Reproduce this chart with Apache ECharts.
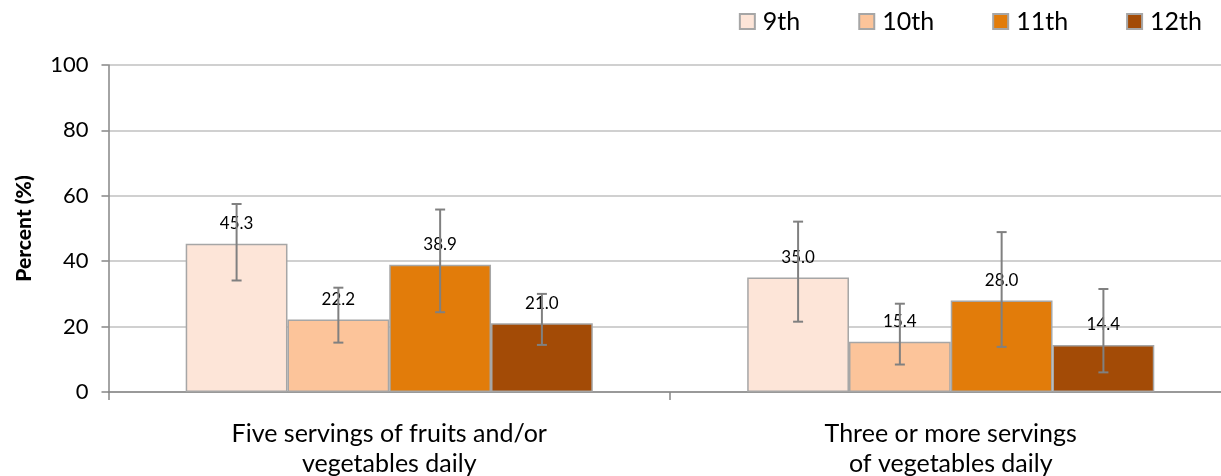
<!DOCTYPE html>
<html>
<head>
<meta charset="utf-8">
<script src="https://cdn.jsdelivr.net/npm/echarts@6/dist/echarts.min.js"></script>
<style>
html,body{margin:0;padding:0;background:#fff;overflow:hidden;}
#chart{width:1232px;height:476px;}
</style>
</head>
<body>
<div id="chart"></div>
<script>
const categories = ["Five servings of fruits and/or\nvegetables daily", "Three or more servings\nof vegetables daily"];
const grades = ["9th", "10th", "11th", "12th"];
const colors = ["#FDE5D8", "#FCC49A", "#E27C0A", "#A34B06"];
const values9 = [45.3, 35.0];
const values10 = [22.2, 15.4];
const values11 = [38.9, 28.0];
const values12 = [21.0, 14.4];
const lower9 = [34.1, 21.5];
const upper9 = [57.5, 52.1];
const lower10 = [15.1, 8.4];
const upper10 = [31.9, 27.0];
const lower11 = [24.4, 13.8];
const upper11 = [55.8, 48.9];
const lower12 = [14.4, 6.0];
const upper12 = [30.0, 31.5];
const yTicks = [0, 20, 40, 60, 80, 100];

const valueSets = [values9, values10, values11, values12];
const lowerSets = [lower9, lower10, lower11, lower12];
const upperSets = [upper9, upper10, upper11, upper12];

const CAT_GAP = 0.275;
const FONT = "Lato, 'Open Sans', sans-serif";

const series = [];
grades.forEach((g, k) => {
  series.push({
    name: g,
    type: 'bar',
    data: valueSets[k],
    barGap: '0%',
    barCategoryGap: (CAT_GAP * 100) + '%',
    itemStyle: { color: colors[k], borderColor: '#A6A6A6', borderWidth: 1.5 },
    label: {
      show: true, position: 'top', distance: 11.5,
      formatter: p => p.value.toFixed(1),
      fontFamily: FONT, fontSize: 17, color: '#000'
    },
    z: 2
  });
});
grades.forEach((g, k) => {
  series.push({
    name: g + ' error',
    type: 'custom',
    data: categories.map((c, i) => [i, lowerSets[k][i], upperSets[k][i]]),
    encode: { x: 0, y: [1, 2] },
    z: 3,
    silent: true,
    renderItem: function (params, api) {
      const cat = api.value(0);
      const lo = api.coord([cat, api.value(1)]);
      const hi = api.coord([cat, api.value(2)]);
      const catW = api.size([1, 0])[0];
      const bw = catW * (1 - CAT_GAP) / 4;
      const x = lo[0] + (k - 1.5) * bw;
      const cap = 5;
      const st = { stroke: '#808080', lineWidth: 2 };
      return {
        type: 'group',
        children: [
          { type: 'line', shape: { x1: x, y1: lo[1], x2: x, y2: hi[1] }, style: st },
          { type: 'line', shape: { x1: x - cap, y1: lo[1], x2: x + cap, y2: lo[1] }, style: st },
          { type: 'line', shape: { x1: x - cap, y1: hi[1], x2: x + cap, y2: hi[1] }, style: st }
        ]
      };
    }
  });
});

const chart = echarts.init(document.getElementById('chart'));
chart.setOption({
  animation: false,
  backgroundColor: '#fff',
  grid: { left: 108.5, right: 0.5, top: 65, bottom: 84, containLabel: false, outerBoundsMode: 'none' },
  legend: {
    data: grades,
    right: 25, top: 4,
    itemWidth: 15, itemHeight: 15, itemGap: 58,
    icon: 'rect',
    textStyle: { fontFamily: FONT, fontSize: 25, color: '#000', padding: [0, 0, 0, 3] }
  },
  xAxis: {
    type: 'category',
    data: categories,
    axisLine: { lineStyle: { color: '#868686', width: 1.5 } },
    axisTick: { show: true, length: 8, lineStyle: { color: '#868686', width: 1.5 } },
    axisLabel: { fontFamily: FONT, fontSize: 25, color: '#000', lineHeight: 30, margin: 27, interval: 0 }
  },
  yAxis: {
    type: 'value',
    min: yTicks[0], max: yTicks[yTicks.length - 1], interval: 20,
    name: 'Percent (%)',
    nameLocation: 'middle',
    nameGap: 74,
    nameTextStyle: { fontFamily: FONT, fontSize: 21, fontWeight: 900, color: '#000' },
    axisLine: { show: true, lineStyle: { color: '#868686', width: 1.5 } },
    axisTick: { show: true, length: 7, lineStyle: { color: '#868686', width: 1.5 } },
    axisLabel: { fontFamily: FONT, fontSize: 22, color: '#000', margin: 20 },
    splitLine: { lineStyle: { color: '#C0C0C0', width: 1.5 } }
  },
  series: series
});
</script>
</body>
</html>
